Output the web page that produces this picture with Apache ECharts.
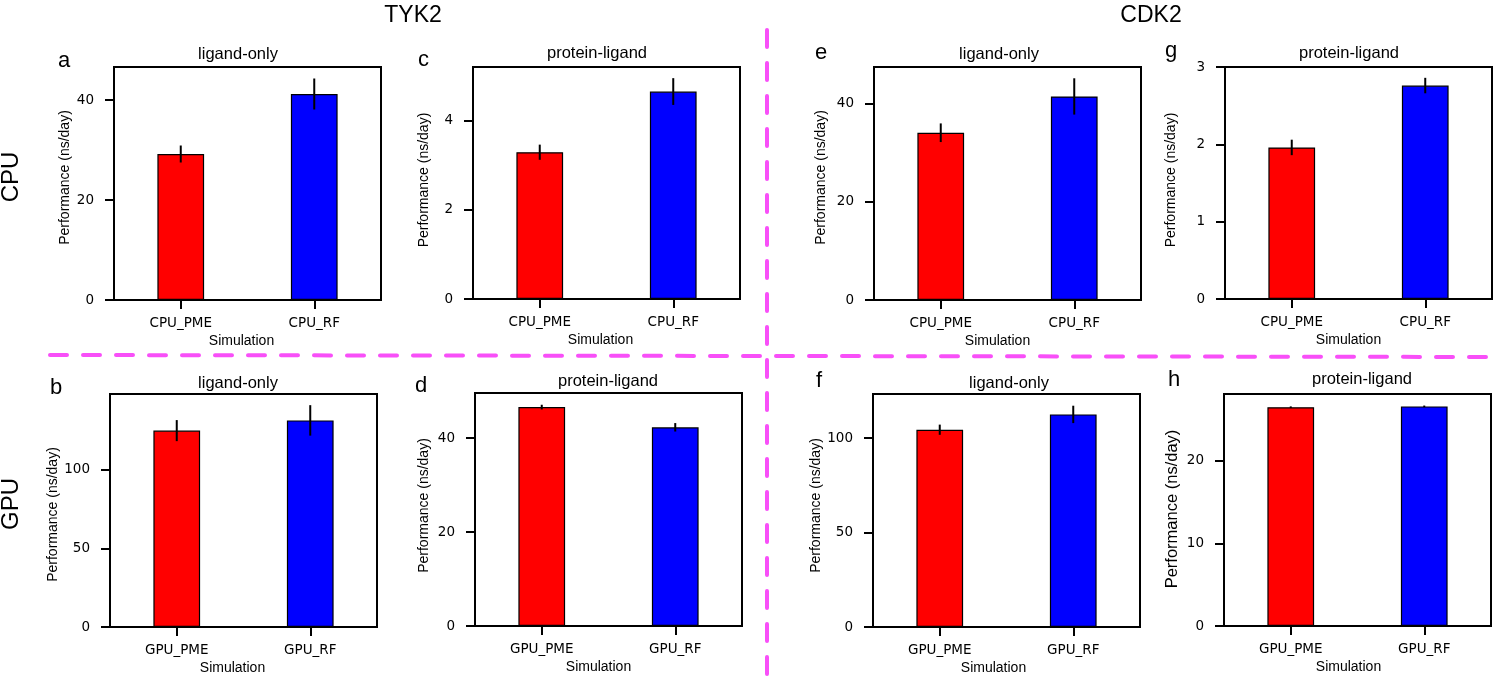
<!DOCTYPE html>
<html>
<head>
<meta charset="utf-8">
<script src="https://cdn.jsdelivr.net/npm/echarts@6/dist/echarts.min.js"></script>
<style>
  html, body { margin: 0; padding: 0; background: #fff; }
  #chart { width: 1500px; height: 686px; }
</style>
</head>
<body>
<div id="chart"></div>
<script>
// ---------------- data ----------------
const rowLabels = ['CPU', 'GPU'];
const columnLabels = ['TYK2', 'CDK2'];
const panelLetters = ['a', 'c', 'e', 'g', 'b', 'd', 'f', 'h'];
const panelTitles = ['ligand-only', 'protein-ligand', 'ligand-only', 'protein-ligand',
                     'ligand-only', 'protein-ligand', 'ligand-only', 'protein-ligand'];
const cpuCategories = ['CPU_PME', 'CPU_RF'];
const gpuCategories = ['GPU_PME', 'GPU_RF'];
const xAxisTitle = 'Simulation';
const yAxisTitle = 'Performance (ns/day)';

// TYK2
const tyk2CpuLigand = [29.2, 41.2];
const tyk2CpuLigandErr = [1.7, 3.1];
const tyk2CpuProtein = [3.29, 4.65];
const tyk2CpuProteinErr = [0.17, 0.30];
const tyk2GpuLigand = [125.0, 131.5];
const tyk2GpuLigandErr = [6.7, 9.7];
const tyk2GpuProtein = [46.6, 42.3];
const tyk2GpuProteinErr = [0.5, 0.9];
// CDK2
const cdk2CpuLigand = [34.1, 41.5];
const cdk2CpuLigandErr = [1.9, 3.7];
const cdk2CpuProtein = [1.96, 2.76];
const cdk2CpuProteinErr = [0.10, 0.10];
const cdk2GpuLigand = [104.4, 112.5];
const cdk2GpuLigandErr = [2.7, 4.6];
const cdk2GpuProtein = [26.5, 26.6];
const cdk2GpuProteinErr = [0.1, 0.1];

// axis limits and tick labels (panel order a, c, e, g, b, d, f, h)
const yMaxes = [46.6, 5.2, 47.5, 3.0, 148.3, 49.6, 123.3, 28.1];
const yTicksA = [0, 20, 40];
const yTicksC = [0, 2, 4];
const yTicksE = [0, 20, 40];
const yTicksG = [0, 1, 2, 3];
const yTicksB = [0, 50, 100];
const yTicksD = [0, 20, 40];
const yTicksF = [0, 50, 100];
const yTicksH = [0, 10, 20];

const panelValues = [tyk2CpuLigand, tyk2CpuProtein, cdk2CpuLigand, cdk2CpuProtein,
                     tyk2GpuLigand, tyk2GpuProtein, cdk2GpuLigand, cdk2GpuProtein];
const panelErrors = [tyk2CpuLigandErr, tyk2CpuProteinErr, cdk2CpuLigandErr, cdk2CpuProteinErr,
                     tyk2GpuLigandErr, tyk2GpuProteinErr, cdk2GpuLigandErr, cdk2GpuProteinErr];
const panelCategories = [cpuCategories, cpuCategories, cpuCategories, cpuCategories,
                         gpuCategories, gpuCategories, gpuCategories, gpuCategories];
const panelTicks = [yTicksA, yTicksC, yTicksE, yTicksG, yTicksB, yTicksD, yTicksF, yTicksH];

// ---------------- layout (pixels) ----------------
const layout = [
  {left: 114, top: 67, width: 267, height: 233, titleX: 233, titleTop: 41, letterX: 58, letterY: 61, nameGap: 42, nameShift: -6, simShift: -6, nameSize: 14},
  {left: 473, top: 67, width: 267, height: 232, titleX: 592, titleTop: 40, letterX: 418, letterY: 60, nameGap: 42, nameShift: -3, simShift: -6, nameSize: 14},
  {left: 874, top: 67, width: 267, height: 233, titleX: 994, titleTop: 41, letterX: 815, letterY: 53, nameGap: 46, nameShift: -6, simShift: -10, nameSize: 14},
  {left: 1225, top: 67, width: 267, height: 232, titleX: 1344, titleTop: 40, letterX: 1165, letterY: 51, nameGap: 47, nameShift: -3, simShift: -10, nameSize: 14},
  {left: 110, top: 394, width: 267, height: 233, titleX: 233, titleTop: 370, letterX: 50, letterY: 388, nameGap: 46, nameShift: 4, simShift: -11, nameSize: 14},
  {left: 475, top: 393, width: 267, height: 233, titleX: 603, titleTop: 368, letterX: 415, letterY: 386, nameGap: 44, nameShift: -4, simShift: -10, nameSize: 14},
  {left: 873, top: 394, width: 267, height: 233, titleX: 1004, titleTop: 370, letterX: 816, letterY: 381, nameGap: 49, nameShift: -5, simShift: -13, nameSize: 14},
  {left: 1224, top: 394, width: 267, height: 232, titleX: 1357, titleTop: 366, letterX: 1168, letterY: 380, nameGap: 43, nameShift: -1, simShift: -9, nameSize: 16.5}
];

const barColors = ['#ff0000', '#0000ff'];
const LABEL_FONT = 'DejaVu Sans';
const TEXT_FONT = 'Liberation Sans, Arial, Helvetica, sans-serif';
const magenta = '#f84ff8';

const grids = [], xAxes = [], yAxes = [], series = [], titles = [], graphics = [];

layout.forEach((L, i) => {
  grids.push({
    left: L.left, top: L.top, width: L.width, height: L.height,
    show: true, borderColor: '#000', borderWidth: 2, backgroundColor: '#fff',
    containLabel: false
  });
  xAxes.push({
    type: 'category', gridIndex: i, data: panelCategories[i], boundaryGap: true,
    axisLine: { show: true, lineStyle: { color: '#000', width: 2 } },
    axisTick: { show: true, alignWithLabel: true, length: 9, lineStyle: { color: '#000', width: 2 } },
    axisLabel: { color: '#000', fontFamily: LABEL_FONT, fontSize: 13.5, margin: 16 },
    splitLine: { show: false },
    name: xAxisTitle, nameLocation: 'middle', nameGap: 34,
    nameTextStyle: { color: '#000', fontFamily: TEXT_FONT, fontSize: 14,
                     padding: [0, 2 * Math.abs(L.simShift), 0, 0] }
  });
  const ticks = panelTicks[i];
  yAxes.push({
    type: 'value', gridIndex: i, min: 0, max: yMaxes[i],
    axisLine: { show: true, lineStyle: { color: '#000', width: 2 } },
    axisTick: { show: true, length: 9, lineStyle: { color: '#000', width: 2 }, customValues: ticks },
    axisLabel: { color: '#000', fontFamily: LABEL_FONT, fontSize: 13.5, margin: 20, customValues: ticks },
    splitLine: { show: false },
    name: yAxisTitle, nameLocation: 'middle', nameGap: L.nameGap,
    nameTextStyle: { color: '#000', fontFamily: TEXT_FONT, fontSize: L.nameSize,
                     padding: L.nameShift < 0 ? [0, 0, 0, -2 * L.nameShift] : [0, 2 * L.nameShift, 0, 0] }
  });
  series.push({
    type: 'bar', xAxisIndex: i, yAxisIndex: i, barWidth: '35%',
    data: panelValues[i].map((v, k) => ({ value: v, itemStyle: { color: barColors[k] } })),
    itemStyle: { borderColor: '#000', borderWidth: 1.2 },
    z: 2
  });
  series.push({
    type: 'custom', xAxisIndex: i, yAxisIndex: i,
    data: panelValues[i].map((v, k) => [k, v, panelErrors[i][k]]),
    encode: { x: 0, y: 1 },
    renderItem: function (params, api) {
      const x = api.value(0), v = api.value(1), e = api.value(2);
      const p1 = api.coord([x, v - e]);
      const p2 = api.coord([x, v + e]);
      return { type: 'line', shape: { x1: p1[0], y1: p1[1], x2: p2[0], y2: p2[1] },
               style: { stroke: '#000', lineWidth: 2 } };
    },
    z: 5
  });
  titles.push({
    text: panelTitles[i], left: L.titleX, top: L.titleTop, textAlign: 'center',
    textStyle: { color: '#000', fontFamily: TEXT_FONT, fontSize: 16.5, fontWeight: 'normal' }
  });
  graphics.push({
    type: 'text', x: L.letterX, y: L.letterY,
    style: { text: panelLetters[i], fill: '#000', font: '22px ' + TEXT_FONT,
             textAlign: 'left', textVerticalAlign: 'middle' }
  });
});

// column headers
titles.push({ text: columnLabels[0], left: 408, top: -1, textAlign: 'center',
  textStyle: { color: '#000', fontFamily: TEXT_FONT, fontSize: 23, fontWeight: 'normal' } });
titles.push({ text: columnLabels[1], left: 1146, top: -1, textAlign: 'center',
  textStyle: { color: '#000', fontFamily: TEXT_FONT, fontSize: 23, fontWeight: 'normal' } });

// row headers
graphics.push({ type: 'text', x: 11, y: 177, rotation: Math.PI / 2,
  style: { text: rowLabels[0], fill: '#000', font: '24px ' + TEXT_FONT, textAlign: 'center', textVerticalAlign: 'middle' } });
graphics.push({ type: 'text', x: 11, y: 504, rotation: Math.PI / 2,
  style: { text: rowLabels[1], fill: '#000', font: '24px ' + TEXT_FONT, textAlign: 'center', textVerticalAlign: 'middle' } });

// dashed separators
graphics.push({ type: 'line', shape: { x1: 50, y1: 355, x2: 1500, y2: 357 }, z: 10,
  style: { stroke: magenta, lineWidth: 4, lineDash: [17, 16], lineCap: 'round' } });
graphics.push({ type: 'line', shape: { x1: 767, y1: 30, x2: 767, y2: 686 }, z: 10,
  style: { stroke: magenta, lineWidth: 4, lineDash: [17, 16], lineCap: 'round' } });

const chart = echarts.init(document.getElementById('chart'), null, { renderer: 'canvas' });
chart.setOption({
  animation: false,
  backgroundColor: '#fff',
  title: titles,
  grid: grids,
  xAxis: xAxes,
  yAxis: yAxes,
  series: series,
  graphic: graphics
});
</script>
</body>
</html>
